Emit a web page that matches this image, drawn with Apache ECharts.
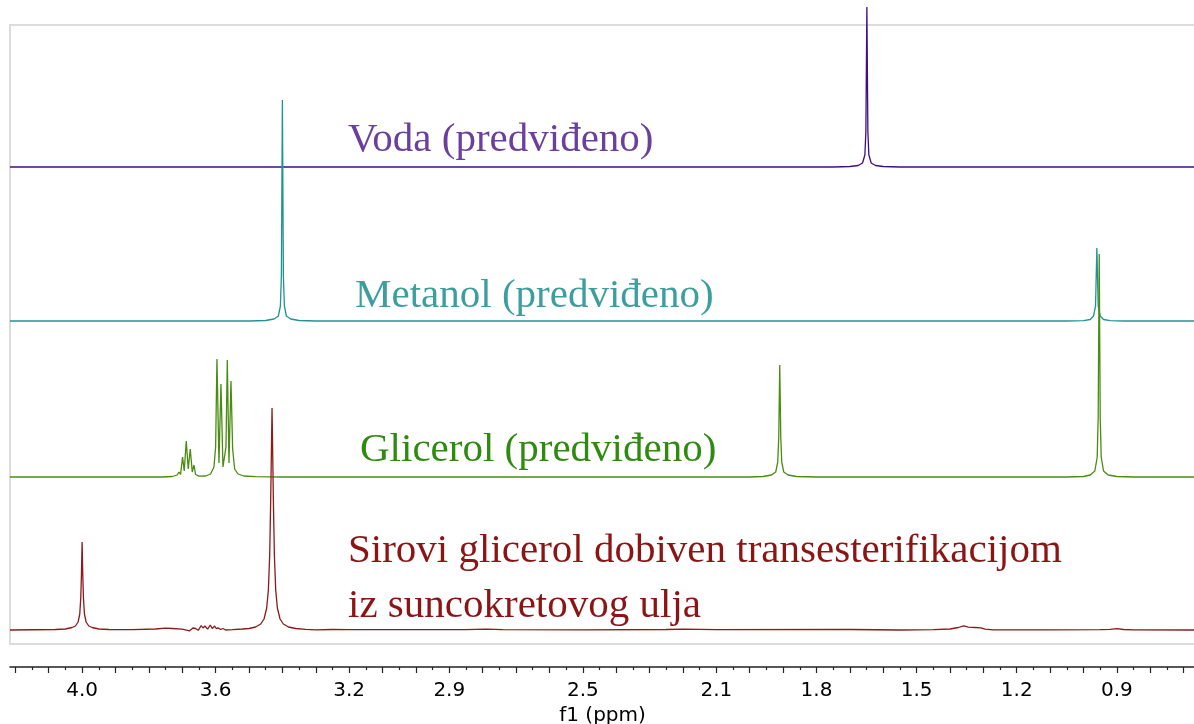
<!DOCTYPE html>
<html>
<head>
<meta charset="utf-8">
<script src="https://cdn.jsdelivr.net/npm/echarts@6/dist/echarts.min.js"></script>
<style>
html,body{margin:0;padding:0;background:#fff;}
#chart{width:1194px;height:724px;}
</style>
</head>
<body>
<div id="chart"></div>
<script>
// ---- data (ppm, relative intensity) ----
const seriesNames = ['Voda (predviđeno)', 'Metanol (predviđeno)', 'Glicerol (predviđeno)', 'Sirovi glicerol dobiven transesterifikacijom'];
const vodaPts = [[4.216,0],[1.75,0],[1.70,0.5],[1.675,1.5],[1.662,4],[1.655,12],[1.652,35],[1.649,160],[1.646,35],[1.643,12],[1.636,4],[1.623,1.5],[1.60,0.5],[1.55,0],[0.666,0]];
const metanolPts = [[4.216,0],[3.50,0],[3.45,0.5],[3.425,2],[3.412,5],[3.406,15],[3.403,45],[3.400,221],[3.397,45],[3.394,15],[3.388,5],[3.375,2],[3.35,0.5],[3.30,0],[1.05,0],[1.00,0.3],[0.980,1.5],[0.970,5],[0.964,15],[0.960,73],[0.956,15],[0.950,5],[0.940,1.5],[0.92,0.3],[0.88,0],[0.666,0]];
const glicerolPts = [[4.216,0],[3.76,0],[3.73,0.5],[3.715,2],[3.710,5],[3.705,2.5],[3.699,20],[3.694,6],[3.688,36],[3.682,8],[3.676,28],[3.670,5],[3.665,12],[3.660,2.5],[3.650,0.8],[3.630,1],[3.615,3],[3.605,10],[3.600,30],[3.596,118],[3.590,14],[3.584,93],[3.578,10],[3.574,10],[3.569,30],[3.565,117],[3.560,14],[3.554,96],[3.549,28],[3.543,8],[3.533,3],[3.515,1],[3.48,0.3],[3.40,0],[2.00,0],[1.96,0.5],[1.935,2],[1.922,5],[1.916,15],[1.913,40],[1.910,112],[1.907,40],[1.904,15],[1.898,5],[1.885,2],[1.86,0.5],[1.80,0],[1.05,0],[1.00,0.5],[0.980,2],[0.966,6],[0.959,20],[0.956,60],[0.953,223],[0.950,60],[0.947,20],[0.940,6],[0.926,2],[0.90,0.5],[0.85,0],[0.666,0]];
const sirovoPts = [[4.216,0],[4.08,0.5],[4.05,1],[4.03,2.5],[4.02,4],[4.012,8],[4.007,16],[4.004,32],[4.002,55],[4.000,88],[3.998,55],[3.996,32],[3.993,16],[3.988,8],[3.980,4],[3.970,2.5],[3.95,1],[3.92,0.5],[3.85,0.3],[3.78,1],[3.75,1.8],[3.73,1.5],[3.70,0.8],[3.678,-0.8],[3.668,2],[3.660,1.5],[3.652,-0.3],[3.643,4.5],[3.638,2],[3.632,4],[3.624,0.8],[3.616,5],[3.610,1.5],[3.603,4],[3.598,1.5],[3.592,2],[3.585,0.5],[3.578,1.5],[3.570,0],[3.55,0.3],[3.52,1],[3.50,1.5],[3.48,3],[3.465,6],[3.455,11],[3.447,22],[3.442,40],[3.438,75],[3.435,130],[3.431,222],[3.427,130],[3.424,75],[3.420,40],[3.415,22],[3.407,11],[3.397,6],[3.382,3],[3.36,1.5],[3.33,0.6],[3.30,0.2],[3.25,0.5],[3.205,0.3],[3.200,1.5],[3.195,0.3],[3.10,0.3],[2.85,0.3],[2.79,0.8],[2.74,0.3],[2.50,0.2],[2.25,0.5],[2.20,0.8],[2.10,0.3],[1.70,0.5],[1.55,0],[1.45,0.3],[1.40,1],[1.375,2.5],[1.359,4.2],[1.345,2.8],[1.325,2.5],[1.307,2.2],[1.295,0.8],[1.27,0.2],[1.10,0.2],[0.95,0.3],[0.92,0.7],[0.900,1.3],[0.880,0.5],[0.85,0.2],[0.666,0]];
const longTickVals = [4.2,4.1,4.0,3.9,3.8,3.7,3.6,3.5,3.4,3.3,3.2,3.1,3.0,2.9,2.8,2.7,2.6,2.5,2.4,2.3,2.2,2.1,2.0,1.9,1.8,1.7,1.6,1.5,1.4,1.3,1.2,1.1,1.0,0.9,0.8,0.7];
const shortTickVals = [4.15,4.05,3.95,3.85,3.75,3.65,3.55,3.45,3.35,3.25,3.15,3.05,2.95,2.85,2.75,2.65,2.55,2.45,2.35,2.25,2.15,2.05,1.95,1.85,1.75,1.65,1.55,1.45,1.35,1.25,1.15,1.05,0.95,0.85,0.75];
const tickLabels = [4.0,3.6,3.2,2.9,2.5,2.1,1.8,1.5,1.2,0.9];
const axisName = 'f1 (ppm)';

// ---- layout / style ----
const offsets = [477, 323, 167, 14];
const lineColors = ['#3f0d85', '#1f9494', '#4a8c12', '#8b1a1a'];
const textColors = ['#6a3f9e', '#3d9e9e', '#2f8a10', '#8b1414'];
const X_MIN = 0.666, X_MAX = 4.216;

const datasets = [vodaPts, metanolPts, glicerolPts, sirovoPts];
const series = datasets.map((pts, i) => ({
  type: 'line',
  name: seriesNames[i],
  xAxisIndex: 0, yAxisIndex: 0,
  data: pts.map(p => [p[0], p[1] + offsets[i]]),
  showSymbol: false,
  symbol: 'none',
  clip: false,
  lineStyle: { color: lineColors[i], width: 1.3 },
  z: 2 + i,
  silent: true
}));

const serif = '"Liberation Serif", "DejaVu Serif", serif';
const labels = [
  { t: 'Voda (predviđeno)', x: 348, y: 144, c: 0 },
  { t: 'Metanol (predviđeno)', x: 355, y: 300, c: 1 },
  { t: 'Glicerol (predviđeno)', x: 360, y: 454, c: 2 },
  { t: 'Sirovi glicerol dobiven transesterifikacijom', x: 348, y: 555, c: 3 },
  { t: 'iz suncokretovog ulja', x: 348, y: 610, c: 3 }
];

const gridBox = { left: 10, right: -1, top: 25, bottom: 80, outerBoundsMode: 'none', containLabel: false };
const sans = '"DejaVu Sans", sans-serif';

const chart = echarts.init(document.getElementById('chart'));
chart.setOption({
  animation: false,
  backgroundColor: '#fff',
  grid: [
    Object.assign({ show: true, borderColor: '#dcdcdc', borderWidth: 2, backgroundColor: 'transparent' }, gridBox),
    Object.assign({ show: false }, gridBox)
  ],
  xAxis: [
    {
      gridIndex: 0, type: 'value', inverse: true, min: X_MIN, max: X_MAX, position: 'bottom', offset: 23,
      splitLine: { show: false },
      axisLine: { show: true, onZero: false, lineStyle: { color: '#222', width: 1.5 } },
      axisTick: { show: true, customValues: longTickVals, length: 6, lineStyle: { color: '#222', width: 1.2 } },
      axisLabel: { show: true, customValues: tickLabels, formatter: v => Number(v).toFixed(1), color: '#000', fontFamily: sans, fontSize: 20, margin: 14 },
      name: axisName, nameLocation: 'middle', nameGap: 37,
      nameTextStyle: { color: '#000', fontFamily: sans, fontSize: 20 }
    },
    {
      gridIndex: 1, type: 'value', inverse: true, min: X_MIN, max: X_MAX, position: 'bottom', offset: 23,
      splitLine: { show: false },
      axisLine: { show: false, onZero: false },
      axisTick: { show: true, customValues: shortTickVals, length: 3, lineStyle: { color: '#222', width: 1.2 } },
      axisLabel: { show: false }
    }
  ],
  yAxis: [
    { gridIndex: 0, type: 'value', min: 0, max: 619, show: false },
    { gridIndex: 1, type: 'value', min: 0, max: 619, show: false }
  ],
  series: series,
  graphic: labels.map(l => ({
    type: 'text', left: l.x, top: l.y - 24, z: 10, silent: true,
    style: { text: l.t, fill: textColors[l.c], font: '41px ' + serif, textVerticalAlign: 'top' }
  }))
});
</script>
</body>
</html>
